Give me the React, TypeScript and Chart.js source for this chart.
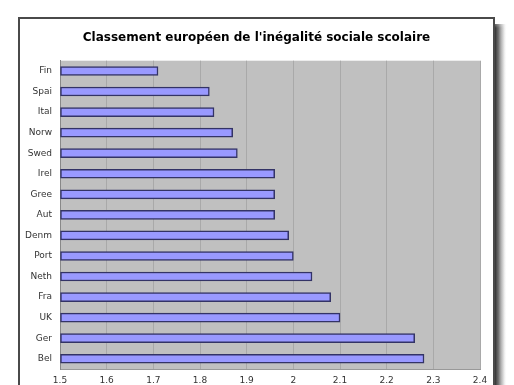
import React, { useEffect, useRef } from "react";
import { Chart, registerables } from "chart.js";

Chart.register(...registerables);

const TITLE = "Classement européen de l'inégalité sociale scolaire";
const categories = ["Fin", "Spai", "Ital", "Norw", "Swed", "Irel", "Gree", "Aut", "Denm", "Port", "Neth", "Fra", "UK", "Ger", "Bel"];
const values = [1.71, 1.82, 1.83, 1.87, 1.88, 1.96, 1.96, 1.96, 1.99, 2.0, 2.04, 2.08, 2.1, 2.26, 2.28];
const xMin = 1.5;
const xMax = 2.4;
const xStep = 0.1;

const FRAME_L = 19;
const FRAME_R = 494;
const FRAME_T = 18;

const framePlugin = {
  id: "frameBg",
  afterLayout(chart: any) {
    const t = chart.titleBlock;
    if (t) {
      t.left = FRAME_L;
      t.right = FRAME_R;
      t.width = FRAME_R - FRAME_L;
    }
  },
  beforeDraw(chart: any) {
    const ctx = chart.ctx;
    const W = chart.width;
    const H = chart.height;
    ctx.save();
    ctx.fillStyle = "#ffffff";
    ctx.fillRect(0, 0, W, H);
    // shadow on the right
    const sx = FRAME_R;
    const grad = ctx.createLinearGradient(sx, 0, sx + 13, 0);
    grad.addColorStop(0, "rgba(30,30,30,1)");
    grad.addColorStop(0.35, "rgba(90,90,90,0.85)");
    grad.addColorStop(0.7, "rgba(170,170,170,0.5)");
    grad.addColorStop(1, "rgba(255,255,255,0)");
    ctx.fillStyle = grad;
    ctx.fillRect(sx, 24, 13, H - 24);
    const g2 = ctx.createLinearGradient(0, 14, 0, 28);
    g2.addColorStop(0, "rgba(255,255,255,1)");
    g2.addColorStop(1, "rgba(255,255,255,0)");
    ctx.fillStyle = g2;
    ctx.fillRect(sx, 14, 13, 14);
    // frame
    ctx.fillStyle = "#ffffff";
    ctx.fillRect(FRAME_L, FRAME_T, sx - FRAME_L, H);
    ctx.strokeStyle = "#4a4a4a";
    ctx.lineWidth = 2;
    ctx.strokeRect(FRAME_L, FRAME_T, sx - FRAME_L, H + 10);
    // plot background
    const a = chart.chartArea;
    ctx.fillStyle = "#c0c0c0";
    ctx.fillRect(a.left, a.top, a.right - a.left, a.bottom - a.top);
    ctx.restore();
  },
};

export default function App() {
  const ref = useRef<HTMLCanvasElement | null>(null);
  useEffect(() => {
    if (!ref.current) return;
    const chart = new Chart(ref.current, {
      type: "bar",
      data: {
        labels: categories,
        datasets: [
          {
            data: values,
            backgroundColor: "#9999ff",
            borderColor: "#333366",
            borderWidth: 1.5,
            borderSkipped: false,
            barThickness: 9,
            base: xMin,
          } as any,
        ],
      },
      options: {
        indexAxis: "y",
        responsive: false,
        animation: false,
        layout: { padding: { left: 19, right: 34, top: 0, bottom: 0 } },
        plugins: {
          legend: { display: false },
          tooltip: { enabled: false },
          title: {
            display: true,
            text: TITLE,
            color: "#000000",
            font: { family: "DejaVu Sans", size: 12, weight: "bold", lineHeight: 1.2 },
            padding: { top: 31, bottom: 15.3 },
          },
        },
        scales: {
          x: {
            min: xMin,
            max: xMax,
            ticks: {
              stepSize: xStep,
              color: "#333333",
              font: { family: "DejaVu Sans", size: 9 },
              padding: 6,
              callback: (v: any) => String(Math.round(Number(v) * 10) / 10),
            },
            grid: { color: "#a9a9a9", drawTicks: false, lineWidth: 1 },
            border: { display: true, color: "#999999" },
            afterFit: (s: any) => {
              s.height = 16;
            },
          },
          y: {
            ticks: {
              color: "#333333",
              font: { family: "DejaVu Sans", size: 9 },
              padding: 8,
            },
            grid: { display: false, drawTicks: false },
            border: { display: true, color: "#888888" },
            afterFit: (s: any) => {
              s.width = 41;
            },
          },
        },
      },
      plugins: [framePlugin],
    });
    return () => chart.destroy();
  }, []);
  return (
    <div style={{ position: "fixed", left: 0, top: 0, width: 514, height: 385, background: "#fff" }}>
      <canvas ref={ref} width={514} height={385} style={{ display: "block" }} />
    </div>
  );
}
